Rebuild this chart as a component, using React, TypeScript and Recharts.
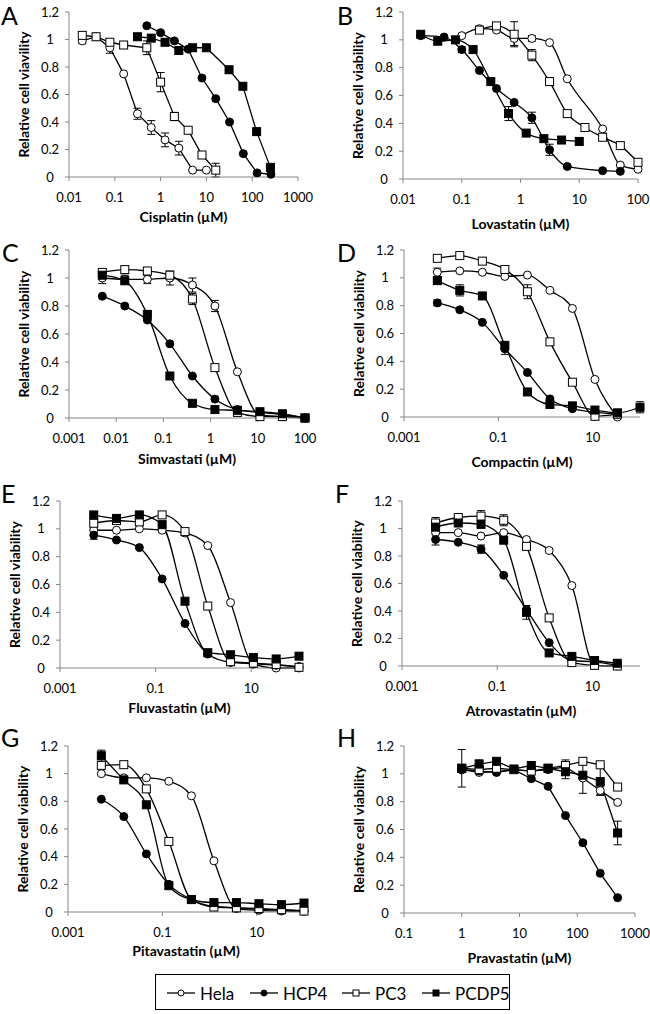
import React from 'react';
import { LineChart, Line, XAxis, YAxis, ErrorBar } from 'recharts';

const FONT = 'Lato, "Open Sans", sans-serif';

// shared 3-fold dilution series (µM)
const dose3 = [0.00508, 0.0152, 0.0457, 0.137, 0.412, 1.235, 3.7, 11.1, 33.3, 100];
const dose3F = [0.00508, 0.0152, 0.0457, 0.137, 0.412, 1.235, 3.7, 11.1, 33.3];
// pravastatin 2-fold series
const dosePrava = [1, 2, 4, 8, 16, 31.25, 62.5, 125, 250, 500];

// A – Cisplatin
const cisHelaDose = [0.0195, 0.039, 0.078, 0.156, 0.3125, 0.625, 1.25, 2.5, 5, 10];
const cisHela = [0.99, 1.02, 0.94, 0.75, 0.46, 0.36, 0.27, 0.21, 0.05, 0.05];
const cisHelaErr = [0.02, 0, 0.04, 0, 0.04, 0.05, 0.05, 0.05, 0, 0];
const cisHcp4Dose = [0.5, 1, 2, 4, 8, 16, 32, 64, 128, 256];
const cisHcp4 = [1.1, 1.05, 0.99, 0.93, 0.72, 0.57, 0.4, 0.17, 0.03, 0.02];
const cisPc3Dose = [0.0195, 0.039, 0.078, 0.156, 0.5, 1, 2, 4, 8, 16];
const cisPc3 = [1.03, 1.02, 0.98, 0.96, 0.94, 0.69, 0.44, 0.34, 0.16, 0.05];
const cisPc3Err = [0, 0, 0, 0, 0.05, 0.07, 0.03, 0, 0, 0.05];
const cisPcdp5Dose = [0.3125, 0.625, 1.25, 2.5, 5, 10, 31.25, 62.5, 125, 250];
const cisPcdp5 = [1.02, 1.01, 0.98, 0.92, 0.94, 0.94, 0.78, 0.66, 0.33, 0.07];

// B – Lovastatin
const lovHelaDose = [0.1, 0.2, 0.39, 0.78, 1.56, 3.125, 6.25, 25, 50, 100];
const lovHela = [1.03, 1.08, 1.07, 1.01, 1.01, 0.98, 0.72, 0.36, 0.1, 0.07];
const lovHelaErr = [0, 0, 0, 0.05, 0.02, 0, 0, 0, 0, 0];
const lovHcp4Dose = [0.02, 0.05, 0.1, 0.2, 0.39, 0.78, 1.56, 3.125, 6.25, 25, 50];
const lovHcp4 = [1.03, 1.02, 0.93, 0.78, 0.65, 0.55, 0.44, 0.21, 0.09, 0.06, 0.055];
const lovHcp4Err = [0, 0, 0.02, 0, 0, 0, 0.04, 0.04, 0, 0, 0];
const lovPc3Dose = [0.2, 0.39, 0.78, 1.56, 3.125, 6.25, 12.5, 25, 50, 100];
const lovPc3 = [1.07, 1.1, 1.04, 0.89, 0.7, 0.47, 0.37, 0.3, 0.24, 0.12];
const lovPc3Err = [0, 0.02, 0.09, 0.04, 0, 0, 0, 0, 0, 0];
const lovPcdp5Dose = [0.02, 0.039, 0.078, 0.156, 0.3125, 0.625, 1.25, 2.5, 5, 10];
const lovPcdp5 = [1.04, 0.99, 1.0, 0.93, 0.7, 0.47, 0.33, 0.29, 0.28, 0.27];
const lovPcdp5Err = [0, 0, 0, 0, 0, 0.05, 0, 0, 0, 0];

// C – Simvastatin
const simHela = [1.0, 0.99, 0.99, 1.0, 0.95, 0.8, 0.33, 0.02, 0.01, 0.0];
const simHelaErr = [0.04, 0.03, 0.03, 0.05, 0.05, 0.04, 0, 0, 0, 0];
const simHcp4 = [0.87, 0.8, 0.7, 0.53, 0.3, 0.135, 0.06, 0.04, 0.025, 0.0];
const simPc3 = [1.04, 1.06, 1.05, 1.02, 0.85, 0.36, 0.04, 0.01, 0.01, 0.0];
const simPc3Err = [0, 0, 0, 0.02, 0.04, 0, 0, 0, 0, 0];
const simPcdp5 = [1.02, 0.98, 0.74, 0.3, 0.105, 0.06, 0.055, 0.045, 0.03, 0.0];

// D – Compactin
const comHela = [1.04, 1.05, 1.04, 1.01, 1.02, 0.91, 0.78, 0.27, 0.0];
const comHelaErr = [0.03, 0, 0, 0, 0, 0, 0, 0, 0];
const comHcp4 = [0.82, 0.77, 0.68, 0.49, 0.32, 0.13, 0.06, 0.035, 0.02];
const comHcp4Err = [0.02, 0, 0, 0.04, 0, 0, 0, 0, 0];
const comPc3 = [1.14, 1.16, 1.12, 1.06, 0.9, 0.54, 0.25, 0.005, 0.02];
const comPc3Err = [0, 0, 0, 0, 0.05, 0, 0, 0, 0];
const comPcdp5 = [0.98, 0.91, 0.87, 0.515, 0.18, 0.09, 0.08, 0.05, 0.03, 0.07];
const comPcdp5Err = [0.02, 0.04, 0, 0, 0, 0, 0, 0, 0, 0.04];

// E – Fluvastatin
const fluHela = [0.99, 0.99, 1.0, 0.99, 0.97, 0.88, 0.47, 0.03, 0.0, 0.0];
const fluHcp4 = [0.955, 0.92, 0.865, 0.64, 0.32, 0.1, 0.04, 0.03, 0.02, 0.01];
const fluHcp4Err = [0.03, 0, 0, 0, 0, 0, 0, 0, 0, 0];
const fluPc3 = [1.04, 1.06, 1.05, 1.1, 0.98, 0.445, 0.045, 0.035, 0.025, 0.005];
const fluPcdp5 = [1.1, 1.075, 1.1, 1.03, 0.48, 0.11, 0.095, 0.075, 0.065, 0.085];

// F – Atorvastatin
const atoHela = [0.97, 0.97, 0.945, 0.97, 0.92, 0.84, 0.585, 0.005, 0.0];
const atoHcp4 = [0.92, 0.9, 0.85, 0.66, 0.41, 0.17, 0.04, 0.03, 0.005];
const atoHcp4Err = [0.04, 0, 0.03, 0, 0, 0, 0, 0, 0];
const atoPc3 = [1.04, 1.08, 1.09, 1.06, 0.87, 0.35, 0.025, 0.005, 0.0];
const atoPc3Err = [0.04, 0.02, 0.04, 0.04, 0, 0, 0, 0, 0];
const atoPcdp5 = [1.01, 1.04, 1.03, 0.915, 0.39, 0.095, 0.07, 0.04, 0.02];
const atoPcdp5Err = [0, 0, 0, 0, 0.05, 0, 0, 0, 0];

// G – Pitavastatin
const pitHela = [1.0, 0.97, 0.97, 0.945, 0.84, 0.37, 0.025, 0.012, 0.007, 0.005];
const pitHcp4 = [0.815, 0.69, 0.42, 0.2, 0.09, 0.04, 0.03, 0.02, 0.015, 0.01];
const pitPc3 = [1.06, 1.065, 0.89, 0.51, 0.09, 0.036, 0.03, 0.025, 0.017, 0.007];
const pitPcdp5 = [1.13, 0.955, 0.775, 0.19, 0.09, 0.068, 0.068, 0.06, 0.053, 0.065];
const pitPcdp5Err = [0.04, 0, 0, 0, 0, 0, 0, 0, 0, 0];

// H – Pravastatin
const praHela = [1.03, 1.01, 1.015, 1.03, 1.02, 1.03, 1.05, 0.97, 0.88, 0.795];
const praHelaErr = [0, 0, 0, 0, 0, 0, 0.05, 0.11, 0.03, 0];
const praHcp4 = [1.03, 1.02, 1.01, 1.03, 0.965, 0.91, 0.7, 0.505, 0.285, 0.11];
const praPc3 = [1.04, 1.03, 1.04, 1.03, 1.02, 1.04, 1.06, 1.09, 1.065, 0.905];
const praPcdp5 = [1.04, 1.07, 1.09, 1.035, 1.06, 1.04, 1.015, 0.99, 0.945, 0.575];
const praPcdp5Err = [0.135, 0.03, 0, 0, 0, 0, 0.05, 0, 0.1, 0.085];

const yTicks = [0, 0.2, 0.4, 0.6, 0.8, 1, 1.2];
const decadeTicks = [0.001, 0.01, 0.1, 1, 10, 100, 1000];
const altTicks = [0.001, 0.1, 10];

type Pt = { x: number; y: number; e: number };
const zip = (xs: number[], ys: number[], es?: number[]): Pt[] =>
  ys.map((y, i) => ({ x: xs[i], y, e: es ? es[i] : 0 }));

const lines = (h: Pt[], c: Pt[], p: Pt[], d: Pt[]) => [
  { name: 'Hela', data: h },
  { name: 'HCP4', data: c },
  { name: 'PC3', data: p },
  { name: 'PCDP5', data: d },
];

const panels = [
  {
    letter: 'A', title: 'Cisplatin (µM)', yTitle: 'Relative cell viavility',
    ox: 0, oy: 0, L: 69, R: 298, T: 12, B: 177, gap: 45, curve: 'linear',
    domain: [0.01, 1000], ticks: decadeTicks.slice(1),
    series: lines(
      zip(cisHelaDose, cisHela, cisHelaErr),
      zip(cisHcp4Dose, cisHcp4),
      zip(cisPc3Dose, cisPc3, cisPc3Err),
      zip(cisPcdp5Dose, cisPcdp5),
    ),
  },
  {
    letter: 'B', title: 'Lovastatin (µM)', yTitle: 'Relative cell viability',
    ox: 325, oy: 0, L: 403, R: 638, T: 12, B: 179, gap: 50, curve: 'monotone',
    domain: [0.01, 100], ticks: decadeTicks.slice(1, 6),
    series: lines(
      zip(lovHelaDose, lovHela, lovHelaErr),
      zip(lovHcp4Dose, lovHcp4, lovHcp4Err),
      zip(lovPc3Dose, lovPc3, lovPc3Err),
      zip(lovPcdp5Dose, lovPcdp5, lovPcdp5Err),
    ),
  },
  {
    letter: 'C', title: 'Simvastati (µM)', yTitle: 'Relative cell viability',
    ox: 0, oy: 240, L: 69, R: 305, T: 250, B: 418, gap: 46, curve: 'monotone',
    domain: [0.001, 100], ticks: decadeTicks.slice(0, 6),
    series: lines(
      zip(dose3, simHela, simHelaErr),
      zip(dose3, simHcp4),
      zip(dose3, simPc3, simPc3Err),
      zip(dose3, simPcdp5),
    ),
  },
  {
    letter: 'D', title: 'Compactin (µM)', yTitle: 'Relative cell viability',
    ox: 325, oy: 240, L: 404, R: 640, T: 250, B: 417, gap: 50, curve: 'monotone',
    domain: [0.001, 100], ticks: altTicks,
    series: lines(
      zip(dose3, comHela, comHelaErr),
      zip(dose3, comHcp4, comHcp4Err),
      zip(dose3, comPc3, comPc3Err),
      zip(dose3, comPcdp5, comPcdp5Err),
    ),
  },
  {
    letter: 'E', title: 'Fluvastatin (µM)', yTitle: 'Relative cell viability',
    ox: 0, oy: 480, L: 60, R: 299, T: 501, B: 668, gap: 45, curve: 'monotone',
    domain: [0.001, 100], ticks: altTicks,
    series: lines(
      zip(dose3, fluHela),
      zip(dose3, fluHcp4, fluHcp4Err),
      zip(dose3, fluPc3),
      zip(dose3, fluPcdp5),
    ),
  },
  {
    letter: 'F', title: 'Atrovastatin (µM)', yTitle: 'Relative cell viability',
    ox: 325, oy: 480, L: 402, R: 640, T: 501, B: 666, gap: 50, curve: 'monotone',
    domain: [0.001, 100], ticks: altTicks,
    series: lines(
      zip(dose3F, atoHela),
      zip(dose3F, atoHcp4, atoHcp4Err),
      zip(dose3F, atoPc3, atoPc3Err),
      zip(dose3F, atoPcdp5, atoPcdp5Err),
    ),
  },
  {
    letter: 'G', title: 'Pitavastatin (µM)', yTitle: 'Relative cell viability',
    ox: 0, oy: 720, L: 68, R: 304, T: 746, B: 912, gap: 44, curve: 'monotone',
    domain: [0.001, 100], ticks: altTicks,
    series: lines(
      zip(dose3, pitHela),
      zip(dose3, pitHcp4),
      zip(dose3, pitPc3),
      zip(dose3, pitPcdp5, pitPcdp5Err),
    ),
  },
  {
    letter: 'H', title: 'Pravastatin (µM)', yTitle: 'Relative cell viability',
    ox: 325, oy: 720, L: 404, R: 635, T: 746, B: 913, gap: 50, curve: 'linear',
    domain: [0.1, 1000], ticks: decadeTicks.slice(2),
    series: lines(
      zip(dosePrava, praHela, praHelaErr),
      zip(dosePrava, praHcp4),
      zip(dosePrava, praPc3),
      zip(dosePrava, praPcdp5, praPcdp5Err),
    ),
  },
];

const filled = (name: string) => name === 'HCP4' || name === 'PCDP5';
const round = (name: string) => name === 'Hela' || name === 'HCP4';

function marker(name: string, r = 4) {
  return (p: any) => {
    const { cx, cy, index } = p;
    if (cx == null || cy == null) return <g key={index} />;
    const fill = filled(name) ? '#000' : '#fff';
    if (round(name)) {
      return <circle key={index} cx={cx} cy={cy} r={r} fill={fill} stroke="#000" strokeWidth={1} />;
    }
    return (
      <rect key={index} x={cx - r} y={cy - r} width={r * 2} height={r * 2} fill={fill} stroke="#000" strokeWidth={1} />
    );
  };
}

const tickStyle = { fill: '#000', fontSize: 13, fontFamily: FONT };
const titleStyle = { fill: '#000', fontSize: 14, fontWeight: 700, fontFamily: FONT };

function Panel({ p }: { p: (typeof panels)[number] }) {
  const h = p.B - p.oy + 60;
  return (
    <div style={{ position: 'absolute', left: p.ox, top: p.oy }}>
      <LineChart
        width={325}
        height={h}
        margin={{ top: p.T - p.oy, right: 325 - (p.R - p.ox), bottom: 0, left: 0 }}
      >
        <XAxis
          dataKey="x"
          type="number"
          scale="log"
          domain={p.domain}
          ticks={p.ticks}
          interval={0}
          tickFormatter={(v: number) => String(v)}
          stroke="#868686"
          tickSize={4}
          tickMargin={12}
          height={60}
          tick={tickStyle}
          label={{ value: p.title, position: 'insideBottom', offset: 60 - p.gap, style: titleStyle }}
        />
        <YAxis
          type="number"
          domain={[0, 1.2]}
          ticks={yTicks}
          interval={0}
          width={p.L - p.ox}
          stroke="#868686"
          tickSize={4}
          tickMargin={15}
          tick={{ ...tickStyle, textAnchor: 'middle' }}
          label={{
            value: p.yTitle,
            angle: -90,
            position: 'insideLeft',
            offset: p.L - p.ox - 45,
            style: { ...titleStyle, textAnchor: 'middle' },
          }}
        />
        {p.series.map((s) => (
          <Line
            key={s.name}
            name={s.name}
            data={s.data}
            dataKey="y"
            type={p.curve as any}
            stroke="#000"
            strokeWidth={1.3}
            dot={marker(s.name)}
            activeDot={false}
            isAnimationActive={false}
          >
            <ErrorBar dataKey="e" width={4} stroke="#000" strokeWidth={1} direction="y" />
          </Line>
        ))}
      </LineChart>
    </div>
  );
}

const legendItems = [
  { name: 'Hela', left: 167 },
  { name: 'HCP4', left: 250 },
  { name: 'PC3', left: 342 },
  { name: 'PCDP5', left: 422 },
];

const letterPos = [
  { x: 1, y: 25 }, { x: 337, y: 25 },
  { x: 2, y: 262 }, { x: 337, y: 262 },
  { x: 1, y: 503 }, { x: 335, y: 503 },
  { x: 1, y: 747 }, { x: 337, y: 747 },
];

export default function App() {
  return (
    <div style={{ position: 'absolute', left: 0, top: 0, width: 650, height: 1014, background: '#fff', overflow: 'hidden' }}>
      {panels.map((p) => (
        <Panel key={p.letter} p={p} />
      ))}
      <svg width={650} height={1014} style={{ position: 'absolute', left: 0, top: 0, pointerEvents: 'none' }}>
        {panels.map((p, i) => (
          <text key={p.letter} x={letterPos[i].x} y={letterPos[i].y} fontFamily={FONT} fontSize={25} fill="#000">
            {p.letter}
          </text>
        ))}
      </svg>
      <div
        style={{
          position: 'absolute', left: 155, top: 974, width: 355, height: 36,
          border: '1.5px solid #000', boxSizing: 'border-box',
        }}
      />
      {legendItems.map((it) => (
        <div
          key={it.name}
          style={{ position: 'absolute', left: it.left, top: 982, height: 22, display: 'flex', alignItems: 'center', fontFamily: FONT, fontSize: 17, color: '#000' }}
        >
          <svg width={30} height={12} style={{ marginRight: 3 }}>
            <line x1={0} y1={6} x2={28} y2={6} stroke="#000" strokeWidth={1.3} />
            {marker(it.name, 3)({ cx: 14, cy: 6, index: 0 })}
          </svg>
          <span>{it.name}</span>
        </div>
      ))}
    </div>
  );
}
